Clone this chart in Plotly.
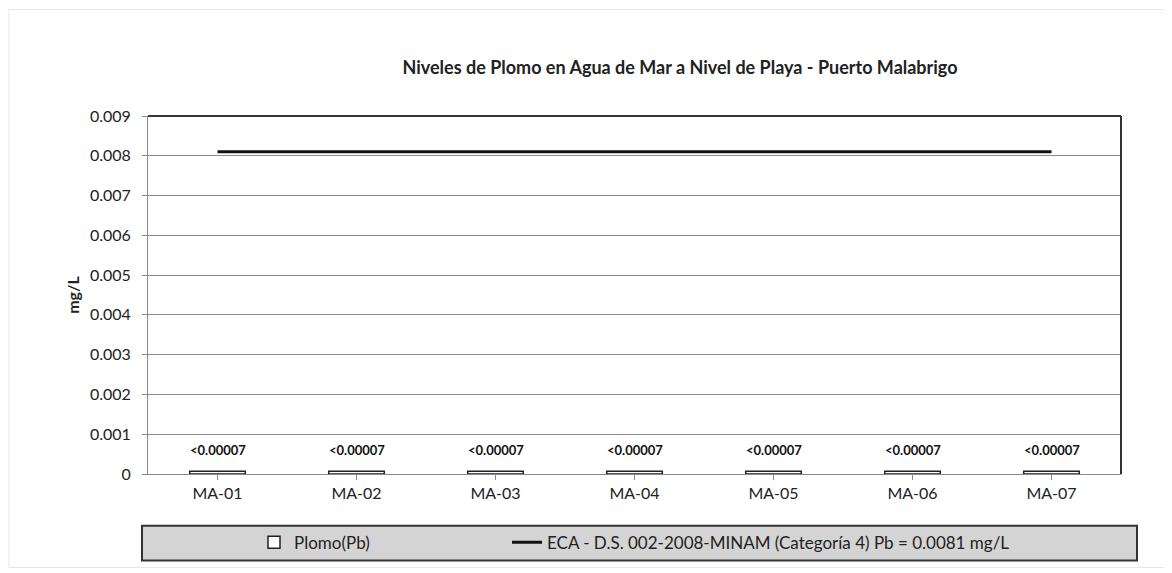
import plotly.graph_objects as go

categories = ["MA-01", "MA-02", "MA-03", "MA-04", "MA-05", "MA-06", "MA-07"]
plomo_values = [0.00007, 0.00007, 0.00007, 0.00007, 0.00007, 0.00007, 0.00007]
plomo_labels = ["<0.00007"] * 7
eca_values = [0.0081] * 7
y_ticks = [0, 0.001, 0.002, 0.003, 0.004, 0.005, 0.006, 0.007, 0.008, 0.009]
y_tick_text = ["0", "0.001", "0.002", "0.003", "0.004", "0.005", "0.006", "0.007", "0.008", "0.009"]

OFF = 8  # default page body margin
W, H = 1172 - OFF, 573 - OFF
# plot area in page pixels: x 148..1121, y 116..476
L = 148 - OFF
T = 116 - OFF
R = W - (1121 - OFF)
B = H - (476 - OFF)
pw, ph = W - L - R, H - T - B

def px(x):
    return (x - OFF - L) / pw

def py(y):
    return (H - B - (y - OFF)) / ph

FONT = "Lato"

fig = go.Figure()
fig.add_trace(go.Bar(
    x=categories, y=plomo_values, name="Plomo(Pb)",
    marker=dict(color="white", line=dict(color="#222222", width=1.5)),
    width=0.4, cliponaxis=False, legend="legend",
))
fig.add_trace(go.Scatter(
    x=categories, y=eca_values, mode="lines",
    name="ECA - D.S. 002-2008-MINAM (Categoría 4) Pb = 0.0081 mg/L",
    line=dict(color="#111111", width=3), legend="legend2",
))

for c, v, t in zip(categories, plomo_values, plomo_labels):
    fig.add_annotation(x=c, y=v, text=t, showarrow=False, yanchor="middle", yshift=21,
                       font=dict(family=FONT, size=13, color="#111111", weight="bold"))

shapes = [
    dict(type="rect", xref="paper", yref="paper",
         x0=px(142), x1=px(1137), y0=py(528), y1=py(563),
         fillcolor="#d4d4d4", line=dict(color="#333333", width=2), layer="below"),
    dict(type="rect", xref="paper", yref="paper",
         x0=px(9), x1=px(1165), y0=py(9), y1=py(570),
         fillcolor="rgba(0,0,0,0)", line=dict(color="#e6e6e6", width=1), layer="below"),
    dict(type="line", xref="paper", yref="paper", x0=0, x1=1, y0=1, y1=1,
         line=dict(color="#333333", width=2)),
    dict(type="line", xref="paper", yref="paper", x0=1, x1=1, y0=0, y1=1,
         line=dict(color="#333333", width=2)),
]

leg_font = dict(family=FONT, size=17, color="#222222")
fig.update_layout(
    width=W, height=H,
    margin=dict(l=L, r=R, t=T, b=B),
    paper_bgcolor="white", plot_bgcolor="white",
    font=dict(family=FONT, size=16, color="#222222"),
    title=dict(text="Niveles de Plomo en Agua de Mar a Nivel de Playa - Puerto Malabrigo",
               xref="paper", x=px(680), xanchor="center",
               yref="container", y=1 - (68 - OFF) / H, yanchor="middle",
               font=dict(family=FONT, size=18, color="#222222", weight="bold")),
    showlegend=True,
    legend=dict(orientation="h", x=px(254), xanchor="left", y=py(545), yanchor="middle",
                bgcolor="rgba(0,0,0,0)", font=leg_font),
    legend2=dict(orientation="h", x=px(507), xanchor="left", y=py(545), yanchor="middle",
                 bgcolor="rgba(0,0,0,0)", font=leg_font),
    shapes=shapes,
)
fig.update_xaxes(showgrid=False, showline=True, linecolor="#888888", linewidth=1,
                 ticks="outside", ticklen=5, tickcolor="#888888",
                 tickfont=dict(family=FONT, size=16, color="#222222"))
fig.update_yaxes(range=[0, 0.009], tickvals=y_ticks, ticktext=y_tick_text,
                 showgrid=True, gridcolor="#8a8a8a", gridwidth=1,
                 showline=True, linecolor="#888888", linewidth=1,
                 ticks="outside", ticklen=5, tickcolor="#888888", ticklabelstandoff=8,
                 tickfont=dict(family=FONT, size=16, color="#222222"),
                 title=dict(text="mg/L", font=dict(family=FONT, size=16, color="#222222", weight="bold"), standoff=6),
                 zeroline=False)

fig.write_html("out.html")
